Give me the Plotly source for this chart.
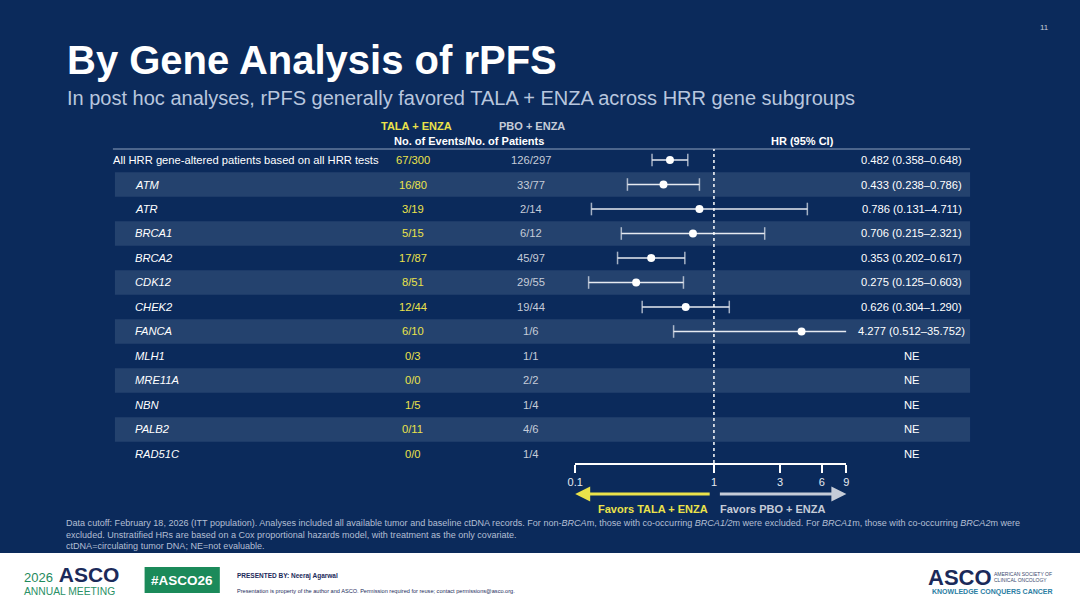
import plotly.graph_objects as go

# Forest plot data (rPFS by HRR gene)
subgroups = [
    "All HRR gene-altered patients based on all HRR tests",
    "ATM", "ATR", "BRCA1", "BRCA2", "CDK12", "CHEK2", "FANCA",
    "MLH1", "MRE11A", "NBN", "PALB2", "RAD51C",
]
tala_enza = ["67/300", "16/80", "3/19", "5/15", "17/87", "8/51", "12/44",
             "6/10", "0/3", "0/0", "1/5", "0/11", "0/0"]
pbo_enza = ["126/297", "33/77", "2/14", "6/12", "45/97", "29/55", "19/44",
            "1/6", "1/1", "2/2", "1/4", "4/6", "1/4"]
hr = [0.482, 0.433, 0.786, 0.706, 0.353, 0.275, 0.626, 4.277,
      None, None, None, None, None]
hr_low = [0.358, 0.238, 0.131, 0.215, 0.202, 0.125, 0.304, 0.512,
          None, None, None, None, None]
hr_high = [0.648, 0.786, 4.711, 2.321, 0.617, 0.603, 1.290, 35.752,
           None, None, None, None, None]
tick_vals = [0.1, 1, 3, 6, 9]
NULL_HR = 1
AXIS_MIN, AXIS_MAX = 0.1, 9

W, H = 1080, 608
BG = "#0b2a5b"
BAND = "#24426e"
YELLOW = "#ebe24a"
GREY = "#c6ccd8"
LIGHT = "#e6eaf1"
FONT = "Liberation Sans, Arial, sans-serif"


def px(x):
    return x / W


def py(y):
    return 1 - y / H


rows = list(range(len(subgroups)))

fig = go.Figure()

# CI lines with caps (arrow where the CI runs past the axis)
ci_x, ci_y, ci_sym, ci_size = [], [], [], []
for i, lo, hi in zip(rows, hr_low, hr_high):
    if lo is None:
        continue
    clipped = hi > AXIS_MAX
    ci_x += [max(lo, AXIS_MIN), min(hi, AXIS_MAX), None]
    ci_y += [i, i, None]
    ci_sym += ["line-ns", "triangle-right" if clipped else "line-ns", "line-ns"]
    ci_size += [9, 8 if clipped else 9, 9]

fig.add_trace(go.Scatter(
    x=ci_x, y=ci_y, mode="lines+markers",
    line=dict(color=LIGHT, width=1.5),
    marker=dict(symbol=ci_sym, size=ci_size, color=LIGHT,
                line=dict(color=LIGHT, width=1.5)),
    cliponaxis=False, hoverinfo="skip", showlegend=False,
))

est_x = [v for v in hr if v is not None]
est_y = [i for i, v in zip(rows, hr) if v is not None]
fig.add_trace(go.Scatter(
    x=est_x, y=est_y, mode="markers",
    marker=dict(symbol="circle", size=8, color="white"),
    cliponaxis=False, showlegend=False,
))

shapes = []
# white footer
shapes.append(dict(type="rect", xref="paper", yref="paper",
                   x0=-0.02, x1=1.02, y0=-0.02, y1=py(553),
                   fillcolor="white", line_width=0, layer="below"))
# alternating bands
for i in rows:
    if i % 2 == 1:
        shapes.append(dict(type="rect", xref="paper", yref="y",
                           x0=px(108), x1=px(972), y0=i - 0.5, y1=i + 0.5,
                           fillcolor=BAND, line_width=0, layer="below"))
# header rule
shapes.append(dict(type="line", xref="paper", yref="y domain",
                   x0=px(106), x1=px(972), y0=1, y1=1,
                   line=dict(color="#8fa1bf", width=1)))
# line of no effect
shapes.append(dict(type="line", xref="x", yref="y domain",
                   x0=NULL_HR, x1=NULL_HR, y0=0, y1=1,
                   line=dict(color="white", width=1.5, dash="3px,3px")))
# #ASCO26 box
shapes.append(dict(type="rect", xref="paper", yref="paper",
                   x0=px(138), x1=px(214), y0=py(593), y1=py(567),
                   fillcolor="#1b8a5a", line_width=0))

ann = []


def text(x, y, s, size, color="white", anchor="left", bold=False,
         family=FONT, yref="paper"):
    if bold:
        s = "<b>" + s + "</b>"
    ann.append(dict(x=px(x), y=py(y) if yref == "paper" else y,
                    xref="paper", yref=yref, text=s, showarrow=False,
                    xanchor=anchor, yanchor="middle", borderpad=0,
                    font=dict(size=size, color=color, family=family)))


# titles
text(59, 60, "By Gene Analysis of rPFS", 40, bold=True)
text(59, 98, "In post hoc analyses, rPFS generally favored TALA + ENZA across HRR gene subgroups",
     20, color="#b8c6de")
text(1047, 28, "11", 8, color="#c6ccd8", anchor="center")

# column headers
text(413, 126, "TALA + ENZA", 11, color=YELLOW, anchor="center", bold=True)
text(529, 126, "PBO + ENZA", 11, color=GREY, anchor="center", bold=True)
text(466, 141, "No. of Events/No. of Patients", 11, anchor="center", bold=True)
text(803, 141, "HR (95% CI)", 11, anchor="center", bold=True)

# table rows
for i, name, t, p, h, lo, hi in zip(rows, subgroups, tala_enza, pbo_enza,
                                     hr, hr_low, hr_high):
    if i == 0:
        text(105, i, name, 11.2, yref="y")
    else:
        text(127, i, "<i>" + name + "</i>", 11.2, yref="y")
    text(409, i, t, 11.2, color=YELLOW, anchor="center", yref="y")
    text(528, i, p, 11.2, color=GREY, anchor="center", yref="y")
    hr_txt = "NE" if h is None else f"{h:.3f} ({lo:.3f}\u2013{hi:.3f})"
    text(913, i, hr_txt, 11.2, anchor="center", yref="y")

# favors arrows
ann.append(dict(x=px(573), y=py(494), xref="paper", yref="paper",
                ax=136, ay=0, showarrow=True, arrowhead=2, arrowsize=1,
                arrowwidth=3, arrowcolor=YELLOW, text=""))
ann.append(dict(x=px(847), y=py(494), xref="paper", yref="paper",
                ax=-128, ay=0, showarrow=True, arrowhead=2, arrowsize=1,
                arrowwidth=3, arrowcolor=GREY, text=""))
text(708, 509, "Favors TALA + ENZA", 11, color=YELLOW, anchor="right", bold=True)
text(718, 509, "Favors PBO + ENZA", 11, color=GREY, bold=True)

# footnotes
foot = [
    "Data cutoff: February 18, 2026 (ITT population). Analyses included all available tumor and baseline ctDNA records. "
    "For non-<i>BRCA</i>m, those with co-occurring <i>BRCA1/2</i>m were excluded. For <i>BRCA1</i>m, those with co-occurring <i>BRCA2</i>m were",
    "excluded. Unstratified HRs are based on a Cox proportional hazards model, with treatment as the only covariate.",
    "ctDNA=circulating tumor DNA; NE=not evaluable.",
]
for k, line in enumerate(foot):
    text(58, 523 + 11.5 * k, line, 9.05, color="#b3bfd4")

# footer logos and credits
text(15, 574, "<span style='font-size:13px;color:#1f8a5c'>2026</span> <b>ASCO</b>", 21,
     color="#1b2a5a")
text(15, 591, "ANNUAL MEETING", 10.3, color="#2a9066")
text(176, 580, "#ASCO26", 13.5, anchor="center", bold=True)
text(230, 576, "PRESENTED BY: Neeraj Agarwal", 6.5, color="#1b2a5a", bold=True)
text(230, 591, "Presentation is property of the author and ASCO. Permission required for reuse; contact permissions@asco.org.",
     5.6, color="#1b2a5a")
text(928, 577, "ASCO", 22, color="#1b2a5a", bold=True)
text(995, 574, "AMERICAN SOCIETY OF", 5, color="#3b4a6e")
text(995, 580, "CLINICAL ONCOLOGY", 5, color="#3b4a6e")
text(932, 592, "KNOWLEDGE CONQUERS CANCER", 7, color="#2b7ea3", bold=True)

fig.update_layout(
    width=W, height=H,
    margin=dict(l=0, r=0, t=0, b=0),
    paper_bgcolor=BG, plot_bgcolor="rgba(0,0,0,0)",
    shapes=shapes, annotations=ann, showlegend=False,
    font=dict(family=FONT),
    xaxis=dict(
        type="log", range=[-1, 0.9542425094],
        domain=[px(573), px(847)],
        tickvals=tick_vals, ticktext=[str(v) for v in tick_vals],
        showline=True, linecolor="white", linewidth=1.5,
        ticks="outside", ticklen=8, tickwidth=1.5, tickcolor="white",
        tickfont=dict(size=11, color=LIGHT, family=FONT),
        showgrid=False, zeroline=False, fixedrange=True,
    ),
    yaxis=dict(
        range=[12.37, -0.45], domain=[py(463), py(149)],
        visible=False, showgrid=False, zeroline=False, fixedrange=True,
    ),
)

fig.write_html("out.html", config={"displayModeBar": False},
               post_script="document.body.style.margin='0px';")
